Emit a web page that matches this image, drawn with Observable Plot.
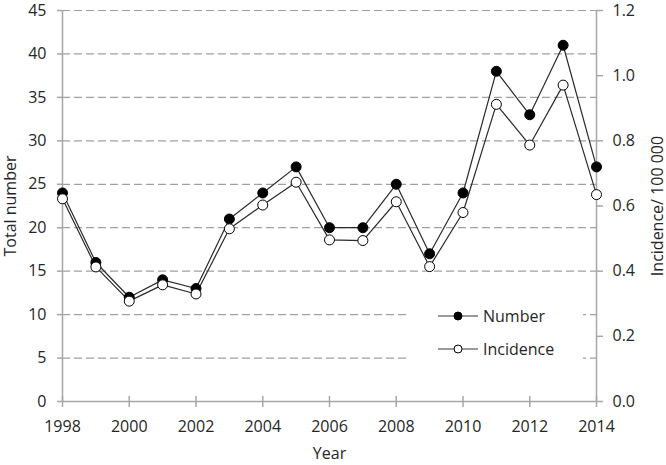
<!DOCTYPE html>
<html><head><meta charset="utf-8">
<script src="https://cdn.jsdelivr.net/npm/d3@7"></script>
<script src="https://cdn.jsdelivr.net/npm/@observablehq/plot@0.6"></script>
<style>body{margin:0;background:#fff}</style>
</head><body><div id="chart"></div>
<script>
const years = [1998,1999,2000,2001,2002,2003,2004,2005,2006,2007,2008,2009,2010,2011,2012,2013,2014];
const numbers = [24,16,12,14,13,21,24,27,20,20,25,17,24,38,33,41,27];
const incidence = [0.622,0.413,0.308,0.358,0.330,0.530,0.603,0.673,0.496,0.494,0.613,0.414,0.580,0.912,0.787,0.971,0.635];
const leftTicks = [0,5,10,15,20,25,30,35,40,45];
const rightTicks = [0,0.2,0.4,0.6,0.8,1.0,1.2];
const xTicks = [1998,2000,2002,2004,2006,2008,2010,2012,2014];
const seriesNames = ["Number","Incidence"];
const axisTitles = {x:"Year", yLeft:"Total number", yRight:"Incidence/ 100 000"};

const ratio = 45/1.2;
const numData = years.map((y,i)=>({year:y, value:numbers[i]}));
const incData = years.map((y,i)=>({year:y, value:incidence[i]*ratio}));
const axisColor = "#a6a6a6";
const textColor = "#262626";

const plot = Plot.plot({
  width:666, height:465, marginLeft:62, marginRight:70, marginTop:10, marginBottom:64,
  style:{fontFamily:'"Open Sans"', fontSize:"16px", color:textColor, background:"#fff"},
  x:{domain:[1998,2014]},
  y:{domain:[0,45]},
  marks:[
    Plot.ruleY(leftTicks.filter(d=>d>0), {stroke:"#a0a0a0", strokeDasharray:"8,4", strokeWidth:1.2}),
    Plot.ruleY([0], {stroke:axisColor, strokeWidth:1.5}),
    Plot.ruleX([1998, 2014], {stroke:axisColor, strokeWidth:1.5}),
    Plot.ruleX(xTicks, {y1:0, y2:0, insetTop:-5, insetBottom:-6, stroke:axisColor, strokeWidth:1.5}),
    Plot.axisX({ticks:xTicks, tickFormat:d=>String(d), tickSize:0, tickPadding:19, label:axisTitles.x, labelAnchor:"center", labelArrow:"none", labelOffset:57, color:textColor, fill:textColor}),
    Plot.axisY({ticks:leftTicks, tickSize:5, tickPadding:11, stroke:axisColor, strokeWidth:1.5, label:axisTitles.yLeft, labelAnchor:"center", labelArrow:"none", labelOffset:58, fill:textColor}),
    Plot.axisY({anchor:"right", ticks:rightTicks.map(v=>v*ratio), tickFormat:d=>(d/ratio).toFixed(1), tickSize:6, tickPadding:10, stroke:axisColor, strokeWidth:1.5, label:axisTitles.yRight, labelAnchor:"center", labelArrow:"none", labelOffset:66, fill:textColor}),
    Plot.line(numData, {x:"year", y:"value", stroke:"#2a2a2a", strokeWidth:1.2}),
    Plot.line(incData, {x:"year", y:"value", stroke:"#2a2a2a", strokeWidth:1.2}),
    Plot.dot(numData, {x:"year", y:"value", r:5, fill:"#000", stroke:"#000", strokeWidth:1}),
    Plot.dot(incData, {x:"year", y:"value", r:5, fill:"#fff", stroke:"#000", strokeWidth:1})
  ]
});

// Legend drawn into the plot svg
const svg = d3.select(plot);
const g = svg.append("g").attr("font-family",'"Open Sans"').attr("font-size",16).attr("text-anchor","start");
g.append("rect").attr("x",407).attr("y",297).attr("width",176).attr("height",75).attr("fill","#fff");
const rows = [{name:seriesNames[0], fill:"#000", y:316},{name:seriesNames[1], fill:"#fff", y:349}];
rows.forEach(r=>{
  g.append("line").attr("x1",438).attr("x2",478).attr("y1",r.y).attr("y2",r.y).attr("stroke","#7a7a7a").attr("stroke-width",1.5);
  g.append("circle").attr("cx",458).attr("cy",r.y).attr("r",4).attr("fill",r.fill).attr("stroke","#000").attr("stroke-width",1);
  g.append("text").attr("x",483).attr("y",r.y).attr("dy","0.35em").attr("text-anchor","start").attr("fill",textColor).text(r.name);
});
document.getElementById("chart").appendChild(plot);
</script>
</body></html>
